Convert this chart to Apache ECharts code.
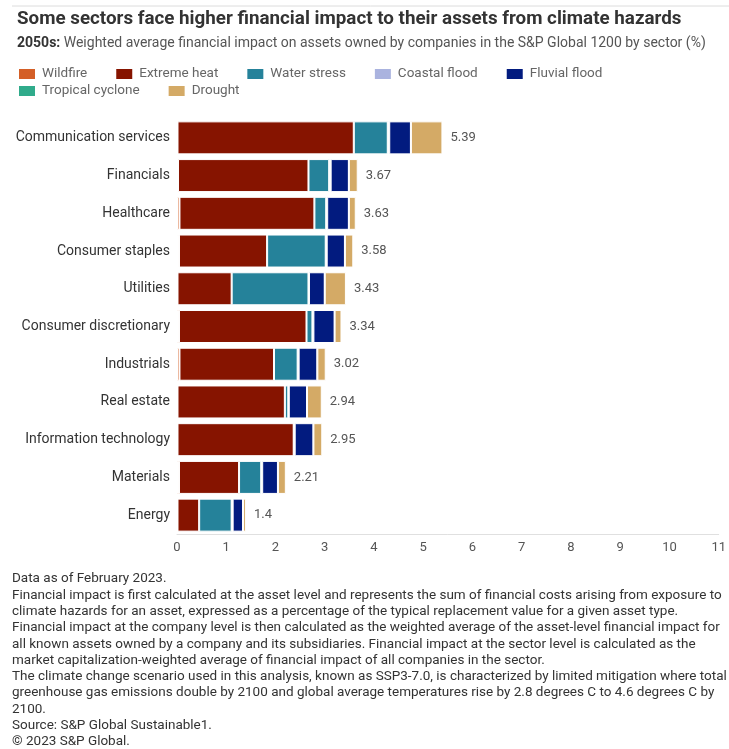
<!DOCTYPE html>
<html>
<head>
    <meta charset="utf-8">
    <title>Climate hazards financial impact by sector</title>
    <script src="https://cdn.jsdelivr.net/npm/echarts@6/dist/echarts.min.js"></script>
    <style>
        html, body { margin: 0; padding: 0; background: #fff; }
        #chart { width: 729px; height: 749px; }
    </style>
</head>
<body>
<div id="chart"></div>
<script>
    // sectors, top to bottom
    var sectors = ['Communication services', 'Financials', 'Healthcare', 'Consumer staples', 'Utilities',
        'Consumer discretionary', 'Industrials', 'Real estate', 'Information technology', 'Materials', 'Energy'];
    var totals = [5.39, 3.67, 3.63, 3.58, 3.43, 3.34, 3.02, 2.94, 2.95, 2.21, 1.4];

    // hazard contributions (%)
    var wildfire        = [0.01, 0.02, 0.05, 0.04, 0.01, 0.04, 0.05, 0.01, 0.01, 0.04, 0.01];
    var extremeHeat     = [3.58, 2.65, 2.74, 1.79, 1.10, 2.59, 1.92, 2.18, 2.36, 1.22, 0.44];
    var waterStress     = [0.69, 0.42, 0.24, 1.19, 1.56, 0.12, 0.48, 0.07, 0.01, 0.45, 0.66];
    var coastalFlood    = [0.03, 0.03, 0.02, 0.02, 0.01, 0.02, 0.02, 0.01, 0.01, 0.02, 0.02];
    var fluvialFlood    = [0.44, 0.37, 0.44, 0.37, 0.32, 0.43, 0.38, 0.37, 0.38, 0.32, 0.21];
    var tropicalCyclone = [0, 0, 0, 0, 0, 0, 0, 0, 0, 0, 0];
    var drought         = [0.64, 0.18, 0.14, 0.17, 0.43, 0.14, 0.17, 0.30, 0.18, 0.16, 0.06];

    var xTicks = [0, 11, 1]; // min, max, interval

    var notes = [
        'Data as of February 2023.',
        'Financial impact is first calculated at the asset level and represents the sum of financial costs arising from exposure to',
        'climate hazards for an asset, expressed as a percentage of the typical replacement value for a given asset type.',
        'Financial impact at the company level is then calculated as the weighted average of the asset-level financial impact for',
        'all known assets owned by a company and its subsidiaries. Financial impact at the sector level is calculated as the',
        'market capitalization-weighted average of financial impact of all companies in the sector.',
        'The climate change scenario used in this analysis, known as SSP3-7.0, is characterized by limited mitigation where total',
        'greenhouse gas emissions double by 2100 and global average temperatures rise by 2.8 degrees C to 4.6 degrees C by',
        '2100.',
        'Source: S&P Global Sustainable1.',
        '\u00a9 2023 S&P Global.'
    ];

    var hazards = [
        { name: 'Wildfire', data: wildfire, color: '#d45f27' },
        { name: 'Extreme heat', data: extremeHeat, color: '#861400' },
        { name: 'Water stress', data: waterStress, color: '#25829a' },
        { name: 'Coastal flood', data: coastalFlood, color: '#aab3df' },
        { name: 'Fluvial flood', data: fluvialFlood, color: '#021b7f' },
        { name: 'Tropical cyclone', data: tropicalCyclone, color: '#30ab8b' },
        { name: 'Drought', data: drought, color: '#d4aa66' }
    ];

    var FONT = 'Roboto';

    function buildSeries() {
        return hazards.map(function (h, i) {
            var s = {
                name: h.name,
                type: 'bar',
                stack: 'total',
                barWidth: 33,
                data: h.data,
                itemStyle: { color: h.color, borderColor: '#fff', borderWidth: 1 },
                emphasis: { disabled: true }
            };
            if (i === hazards.length - 1) {
                s.label = {
                    show: true,
                    position: 'right',
                    distance: 8,
                    color: '#555',
                    fontFamily: FONT,
                    fontSize: 13,
                    formatter: function (p) { return totals[p.dataIndex]; }
                };
            }
            return s;
        });
    }

    function makeLegend(names, top) {
        return {
            left: 12, top: top,
            itemWidth: 18, itemHeight: 12, itemGap: 27,
            icon: 'rect',
            selectedMode: false,
            textStyle: { fontFamily: FONT, fontSize: 13.5, color: '#666', padding: [0, 0, 0, 1] },
            data: names
        };
    }

    var graphics = [
        { type: 'line', shape: { x1: 12, y1: 6, x2: 729, y2: 6 }, style: { stroke: '#dcdcdc', lineWidth: 1 } }
    ];
    notes.forEach(function (t, i) {
        graphics.push({
            type: 'text', left: 12, top: 572 + i * 16.3,
            style: { text: t, fill: '#333', font: '13.5px ' + FONT }
        });
    });

    var chart = echarts.init(document.getElementById('chart'));
    chart.setOption({
        animation: false,
        color: hazards.map(function (h) { return h.color; }),
        title: [{
            text: 'Some sectors face higher financial impact to their assets from climate hazards',
            left: 12, top: 5,
            textStyle: { fontFamily: FONT, fontSize: 18.8, fontWeight: 'bold', color: '#333' }
        }, {
            text: '{b|2050s:} Weighted average financial impact on assets owned by companies in the S&P Global 1200 by sector (%)',
            left: 12, top: 31,
            textStyle: {
                fontFamily: FONT, fontSize: 14, fontWeight: 'normal', color: '#555',
                rich: { b: { fontFamily: FONT, fontSize: 14, fontWeight: 'bold', color: '#333' } }
            }
        }],
        legend: [
            makeLegend(['Wildfire', 'Extreme heat', 'Water stress', 'Coastal flood', 'Fluvial flood'], 62),
            makeLegend(['Tropical cyclone', 'Drought'], 79)
        ],
        grid: { left: 177, right: 3, top: 119, bottom: 215, containLabel: false },
        xAxis: {
            type: 'value',
            min: xTicks[0], max: xTicks[1], interval: xTicks[2],
            axisLine: { show: true, lineStyle: { color: '#e0e0e0' } },
            axisTick: { show: false },
            splitLine: { show: false },
            axisLabel: { color: '#555', fontFamily: FONT, fontSize: 13, margin: 7 }
        },
        yAxis: {
            type: 'category',
            inverse: true,
            data: sectors,
            axisLine: { show: false },
            axisTick: { show: false },
            axisLabel: { color: '#333', fontFamily: FONT, fontSize: 14, margin: 7 }
        },
        graphic: graphics,
        series: buildSeries()
    });
</script>
</body>
</html>
